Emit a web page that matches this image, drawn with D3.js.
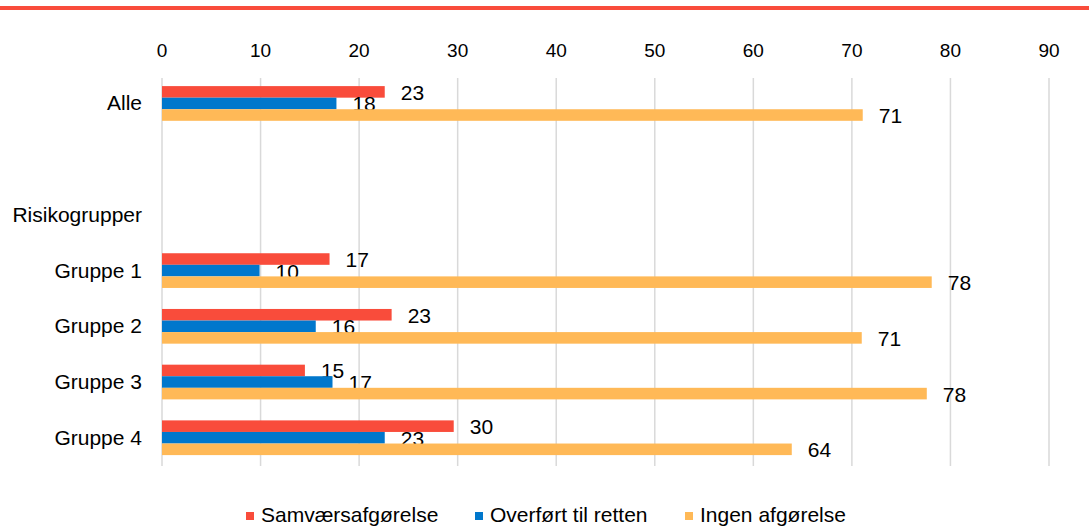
<!DOCTYPE html>
<html><head>
<meta charset="utf-8">
<title>Samværsafgørelser</title>
<script src="https://d3js.org/d3.v7.min.js"></script>
<style>
body { margin: 0; background: #fff; font-family: "Liberation Sans", Arial, sans-serif; }
svg text { fill: #000; }
.grid line { stroke: #d9d9d9; stroke-width: 1.5px; }
</style>
</head>
<body>
<svg id="chart" width="1089" height="528"></svg>
<script>
// data
const categories = ["Alle", "", "Risikogrupper", "Gruppe 1", "Gruppe 2", "Gruppe 3", "Gruppe 4"];
const seriesNames = ["Samværsafgørelse", "Overført til retten", "Ingen afgørelse"];
const colors = ["#f94c3b", "#0077cc", "#ffb957"];
const samvaer   = [22.6, null, null, 17.0, 23.3, 14.5, 29.6];
const overfort  = [17.7, null, null, 9.9, 15.6, 17.3, 22.6];
const ingen     = [71.1, null, null, 78.1, 71.0, 77.6, 63.9];
const xTicks = [0, 10, 20, 30, 40, 50, 60, 70, 80, 90];

const series = [samvaer, overfort, ingen];

const svg = d3.select("#chart");
const W = 1089;

// red rule at the top
svg.append("rect").attr("x", 0).attr("y", 6).attr("width", W).attr("height", 4)
    .attr("fill", "#f94c3b");

const x = d3.scaleLinear().domain([0, 90]).range([162, 1049]);
const y = d3.scaleBand().domain(categories).range([75.6, 465.6])
    .paddingInner(0.377).paddingOuter(0.377 / 2);
const ySub = d3.scaleBand().domain(d3.range(series.length)).range([0, y.bandwidth()]);

// gridlines
svg.append("g").attr("class", "grid")
    .selectAll("line").data(xTicks).join("line")
    .attr("x1", d => x(d)).attr("x2", d => x(d))
    .attr("y1", 78).attr("y2", 466);

// top tick labels
svg.append("g").selectAll("text").data(xTicks).join("text")
    .attr("x", d => x(d)).attr("y", 57)
    .attr("text-anchor", "middle")
    .style("font-size", "19px")
    .text(d => d);

// category labels
svg.append("g").selectAll("text").data(categories).join("text")
    .attr("x", 142).attr("y", d => y(d) + y.bandwidth() / 2)
    .attr("dy", "0.33em")
    .attr("text-anchor", "end")
    .style("font-size", "21px")
    .text(d => d);

// bars and value labels
series.forEach((vals, si) => {
    const pts = categories.map((c, i) => ({ c, v: vals[i] })).filter(d => d.v != null);
    const g = svg.append("g");
    g.selectAll("rect").data(pts).join("rect")
        .attr("x", x(0))
        .attr("y", d => y(d.c) + ySub(si))
        .attr("width", d => x(d.v) - x(0))
        .attr("height", ySub.bandwidth())
        .attr("fill", colors[si]);
    g.selectAll("text").data(pts).join("text")
        .attr("x", d => x(d.v) + 16)
        .attr("y", d => y(d.c) + ySub(si) + ySub.bandwidth() / 2)
        .attr("dy", "0.38em")
        .style("font-size", "21px")
        .text(d => Math.round(d.v));
});

// legend
const legendX = [246, 475, 685];
const legend = svg.append("g").selectAll("g").data(seriesNames).join("g")
    .attr("transform", (d, i) => `translate(${legendX[i]},0)`);
legend.append("rect").attr("x", 0).attr("y", 512).attr("width", 8).attr("height", 8)
    .attr("fill", (d, i) => colors[i]);
legend.append("text").attr("x", 15).attr("y", 522)
    .style("font-size", "21px")
    .text(d => d);
</script>
</body></html>
